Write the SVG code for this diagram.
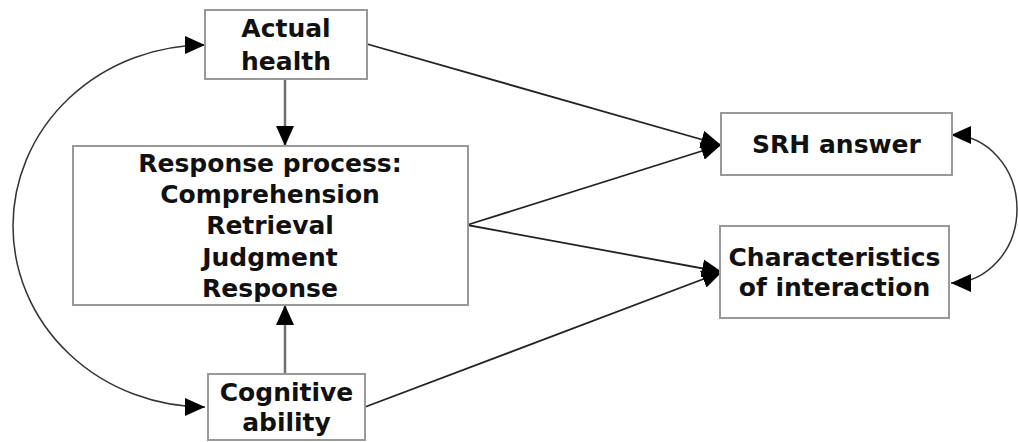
<svg xmlns="http://www.w3.org/2000/svg" width="1018" height="442" viewBox="0 0 1018 442">
<style>
.box{fill:#fff;stroke:#999;stroke-width:2}
.t{font-family:"DejaVu Sans","Verdana",sans-serif;font-weight:bold;font-size:25px;fill:#111;text-anchor:middle}
.v{stroke:#707070;stroke-width:2.5;fill:none}
.d{stroke:#222;stroke-width:1.8;fill:none}
.c{stroke:#333;stroke-width:1.5;fill:none}
</style>
<defs>
<marker id="ah" markerUnits="userSpaceOnUse" markerWidth="20" markerHeight="18" refX="20" refY="9" orient="auto-start-reverse" viewBox="0 0 20 18">
<path d="M0,0 L20,9 L0,18 z" fill="#000"/>
</marker>
</defs>
<g id="connectors">
<path class="v" d="M285,79 L285,146" marker-end="url(#ah)"/>
<path class="v" d="M285,374 L285,305" marker-end="url(#ah)"/>
<path class="d" d="M367,44 L721,145" marker-end="url(#ah)"/>
<path class="d" d="M467,225 L721,145" marker-end="url(#ah)"/>
<path class="d" d="M467,225 L722,272" marker-end="url(#ah)"/>
<path class="d" d="M365,407 L722,272" marker-end="url(#ah)"/>
<path class="c" d="M205,45 A192 181 0 0 0 205 407" marker-start="url(#ah)" marker-end="url(#ah)"/>
<path class="c" d="M951,135 A66 74 0 0 1 951 283" marker-start="url(#ah)" marker-end="url(#ah)"/>
</g>
<g id="actual-health">
<rect class="box" x="205" y="10" width="162" height="69"/>
<text class="t" x="286" y="37">Actual</text>
<text class="t" x="286" y="70">health</text>
</g>
<g id="response-process">
<rect class="box" x="73" y="146" width="395" height="159"/>
<text class="t" x="270" y="172">Response process:</text>
<text class="t" x="270" y="203">Comprehension</text>
<text class="t" x="270" y="234">Retrieval</text>
<text class="t" x="270" y="266">Judgment</text>
<text class="t" x="270" y="297">Response</text>
</g>
<g id="cognitive-ability">
<rect class="box" x="208" y="374" width="157" height="66"/>
<text class="t" x="286.5" y="401">Cognitive</text>
<text class="t" x="286.5" y="431">ability</text>
</g>
<g id="srh-answer">
<rect class="box" x="721" y="113" width="231" height="62"/>
<text class="t" x="836.5" y="153">SRH answer</text>
</g>
<g id="characteristics">
<rect class="box" x="720" y="226" width="229" height="92"/>
<text class="t" x="834.5" y="266">Characteristics</text>
<text class="t" x="834.5" y="296">of interaction</text>
</g>
</svg>
